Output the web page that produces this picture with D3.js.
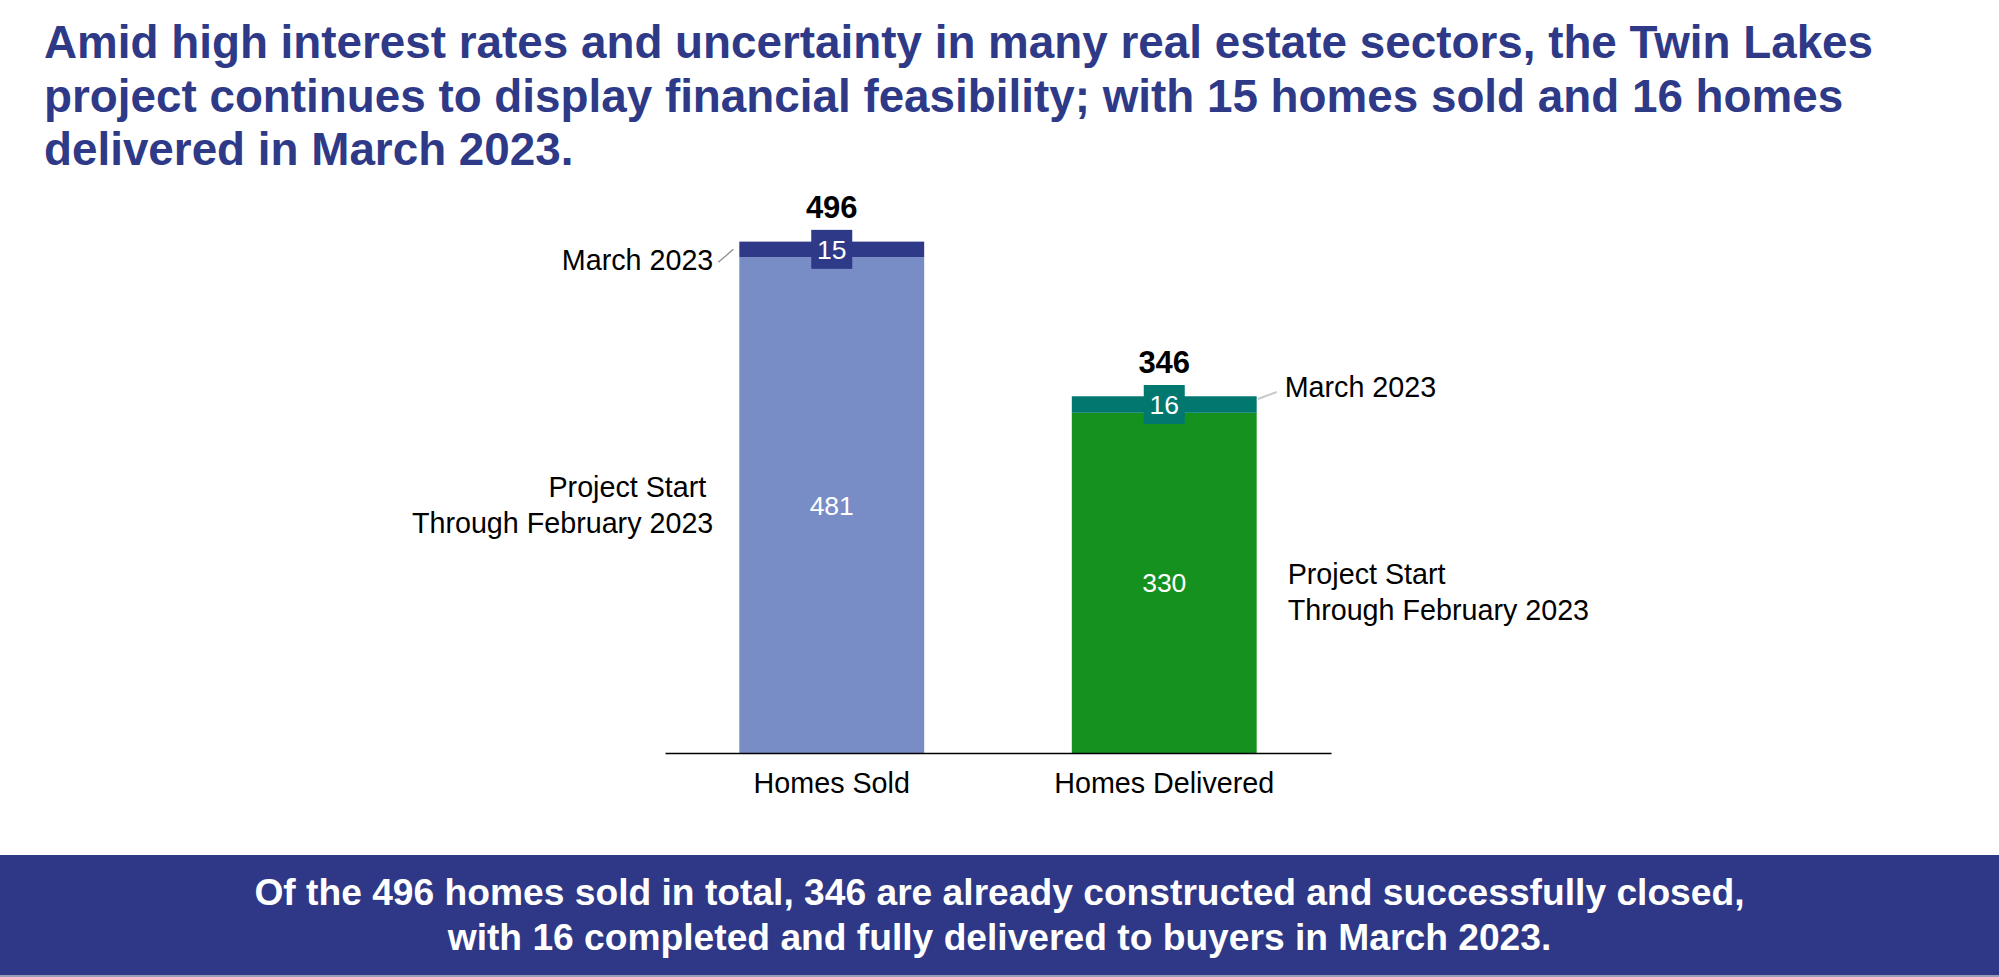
<!DOCTYPE html>
<html>
<head>
<meta charset="utf-8">
<script src="https://cdn.jsdelivr.net/npm/d3@7"></script>
<style>
  html, body { margin: 0; padding: 0; background: #fff; }
  svg { display: block; font-family: "Liberation Sans", Arial, sans-serif; }
</style>
</head>
<body>
<svg id="svg" width="1999" height="977"></svg>
<script>
// chart data
const categories = ["Homes Sold", "Homes Delivered"];
const throughFeb = [481, 330];
const march2023 = [15, 16];
const totals = [496, 346];
const baseColors = ["#788DC6", "#15911F"];
const monthColors = ["#2E3A87", "#007870"];

const titleLines = [
    "Amid high interest rates and uncertainty in many real estate sectors, the Twin Lakes",
    "project continues to display financial feasibility; with 15 homes sold and 16 homes",
    "delivered in March 2023."
];
const footLines = [
    "Of the 496 homes sold in total, 346 are already constructed and successfully closed,",
    "with 16 completed and fully delivered to buyers in March 2023."
];

const width = 1999, height = 977;
const navy = "#2E3A87";
const labelSize = 28.7;
const svg = d3.select("#svg");

// title
svg.append("g")
    .selectAll("text")
    .data(titleLines)
    .join("text")
    .attr("x", 44)
    .attr("y", (d, i) => 58 + i * 53.5)
    .attr("fill", navy)
    .attr("font-size", 45.8)
    .attr("font-weight", "bold")
    .text(d => d);

// scales
const x = d3.scaleBand()
    .domain(categories)
    .range([665, 1331])
    .paddingInner(0.444)
    .paddingOuter(0.2235);

const y = d3.scaleLinear()
    .domain([0, 500])
    .range([753, 237.5]);

const rows = categories.map((c, i) => ({
    cat: c, base: throughFeb[i], month: march2023[i], total: totals[i],
    baseColor: baseColors[i], monthColor: monthColors[i], side: i === 0 ? "left" : "right"
}));

const chart = svg.append("g");

// stacked bars
const bar = chart.selectAll("g.bar")
    .data(rows)
    .join("g")
    .attr("class", "bar");

bar.append("rect")
    .attr("x", d => x(d.cat))
    .attr("width", x.bandwidth())
    .attr("y", d => y(d.base))
    .attr("height", d => y(0) - y(d.base))
    .attr("fill", d => d.baseColor);

bar.append("rect")
    .attr("x", d => x(d.cat))
    .attr("width", x.bandwidth())
    .attr("y", d => y(d.base + d.month))
    .attr("height", d => y(d.base) - y(d.base + d.month))
    .attr("fill", d => d.monthColor);

const cx = d => x(d.cat) + x.bandwidth() / 2;
const midMonth = d => (y(d.base) + y(d.base + d.month)) / 2;
const midBase = d => (y(0) + y(d.base)) / 2;

// value box for the march segment
bar.append("rect")
    .attr("x", d => cx(d) - 20.5)
    .attr("y", d => midMonth(d) - 19.5)
    .attr("width", 41)
    .attr("height", 39)
    .attr("fill", d => d.monthColor);

bar.append("text")
    .attr("x", cx)
    .attr("y", midMonth)
    .attr("dy", "0.35em")
    .attr("text-anchor", "middle")
    .attr("fill", "#fff")
    .attr("font-size", 26.5)
    .text(d => d.month);

bar.append("text")
    .attr("x", cx)
    .attr("y", midBase)
    .attr("dy", "0.36em")
    .attr("text-anchor", "middle")
    .attr("fill", "#fff")
    .attr("font-size", 26.5)
    .text(d => d.base);

// totals
bar.append("text")
    .attr("x", cx)
    .attr("y", d => y(d.total) - 23.5)
    .attr("text-anchor", "middle")
    .attr("fill", "#000")
    .attr("font-size", 31)
    .attr("font-weight", "bold")
    .text(d => d.total);

// side labels
bar.each(function (d) {
    const g = d3.select(this);
    const left = d.side === "left";
    const x0 = left ? x(d.cat) : x(d.cat) + x.bandwidth();
    const m = midMonth(d), b = midBase(d);

    if (left) {
        g.append("line")
            .attr("x1", x0 - 21).attr("y1", m + 13)
            .attr("x2", x0 - 6).attr("y2", m)
            .attr("stroke", "#8c8c8c").attr("stroke-width", 1.3);
        g.append("text")
            .attr("x", x0 - 26).attr("y", m + 21)
            .attr("text-anchor", "end")
            .attr("font-size", labelSize)
            .text("March 2023");
        g.append("text")
            .attr("x", x0 - 33).attr("y", b - 8.5)
            .attr("text-anchor", "end")
            .attr("font-size", labelSize)
            .text("Project Start");
        g.append("text")
            .attr("x", x0 - 26).attr("y", b + 28.2)
            .attr("text-anchor", "end")
            .attr("font-size", labelSize)
            .text("Through February 2023");
    } else {
        g.append("line")
            .attr("x1", x0 + 1).attr("y1", m - 5.5)
            .attr("x2", x0 + 20).attr("y2", m - 12.5)
            .attr("stroke", "#c8c8c8").attr("stroke-width", 2);
        g.append("text")
            .attr("x", x0 + 28).attr("y", m - 7.6)
            .attr("font-size", labelSize)
            .text("March 2023");
        g.append("text")
            .attr("x", x0 + 31).attr("y", b + 1.3)
            .attr("font-size", labelSize)
            .text("Project Start");
        g.append("text")
            .attr("x", x0 + 31).attr("y", b + 37.3)
            .attr("font-size", labelSize)
            .text("Through February 2023");
    }
});

// category axis
const axis = chart.append("g")
    .attr("transform", `translate(0,${y(0)})`)
    .call(d3.axisBottom(x).tickSize(0).tickSizeOuter(0));
axis.select(".domain").attr("stroke", "#000").attr("stroke-width", 1.5);
axis.selectAll(".tick text")
    .attr("y", 40)
    .attr("dy", 0)
    .attr("fill", "#000")
    .attr("font-size", labelSize)
    .attr("font-family", "Liberation Sans, Arial, sans-serif");

// bottom banner
svg.append("rect")
    .attr("x", 0).attr("y", 855)
    .attr("width", width).attr("height", 120)
    .attr("fill", "#2E3886");
svg.append("rect")
    .attr("x", 0).attr("y", 975)
    .attr("width", width).attr("height", 2)
    .attr("fill", "#9a9ab8");

svg.append("g")
    .selectAll("text")
    .data(footLines)
    .join("text")
    .attr("x", width / 2)
    .attr("y", (d, i) => 905 + i * 45)
    .attr("text-anchor", "middle")
    .attr("fill", "#fff")
    .attr("font-size", 37.2)
    .attr("font-weight", "bold")
    .text(d => d);
</script>
</body>
</html>
